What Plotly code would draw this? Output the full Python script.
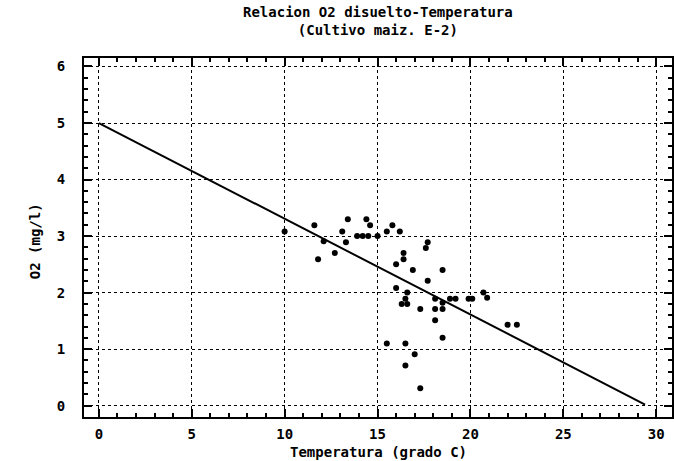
import plotly.graph_objects as go

# Scatter data: Temperatura (grado C) vs O2 disuelto (mg/l)
temp = [10.0, 11.6, 11.8, 12.1, 12.7, 13.1, 13.3, 13.4, 13.9, 14.2,
        14.4, 14.5, 14.6, 15.0, 15.5, 15.8, 16.2, 17.6, 17.7, 16.4,
        16.4, 16.0, 16.9, 18.5, 17.7, 16.0, 16.6, 16.5, 16.3, 16.6,
        18.1, 18.5, 18.9, 19.2, 19.9, 20.1, 20.7, 20.9, 17.3, 18.1,
        18.5, 18.1, 18.5, 15.5, 16.5, 17.0, 16.5, 17.3, 22.0, 22.5]
o2 = [3.08, 3.19, 2.59, 2.91, 2.70, 3.08, 2.89, 3.30, 3.00, 3.00,
      3.30, 3.00, 3.19, 3.00, 3.08, 3.19, 3.08, 2.79, 2.89, 2.70,
      2.59, 2.50, 2.40, 2.40, 2.21, 2.08, 2.00, 1.89, 1.80, 1.80,
      1.89, 1.82, 1.89, 1.89, 1.89, 1.89, 2.00, 1.91, 1.71, 1.71,
      1.71, 1.51, 1.20, 1.10, 1.10, 0.91, 0.71, 0.31, 1.43, 1.43]

# Regression line endpoints
line_x = [0.0, 29.4]
line_y = [5.0, 0.02]

title_lines = ["Relacion O2 disuelto-Temperatura", "(Cultivo maiz. E-2)"]
x_title = "Temperatura (grado C)"
y_title = "O2 (mg/l)"
x_ticks = [0, 5, 10, 15, 20, 25, 30]
y_ticks = [0, 1, 2, 3, 4, 5, 6]

FONT = "DejaVu Sans Mono"

fig = go.Figure()
fig.add_trace(go.Scatter(x=line_x, y=line_y, mode="lines",
                         line=dict(color="black", width=2), showlegend=False))
fig.add_trace(go.Scatter(x=temp, y=o2, mode="markers",
                         marker=dict(color="black", size=6), showlegend=False))

axis_common = dict(
    showline=True, linecolor="black", linewidth=2, mirror="ticks",
    ticks="inside", ticklen=8, tickcolor="black", tickwidth=1.5,
    showgrid=True, gridcolor="black", gridwidth=1, griddash="dot",
    zeroline=False,
    tickfont=dict(family=FONT, size=14, color="black", weight="bold"),
)

fig.update_xaxes(range=[-0.8, 30.85], tickvals=x_ticks, ticktext=[str(v) for v in x_ticks],
                 minor=dict(ticks="inside", dtick=1, ticklen=4, tickcolor="black", tickwidth=1.5, showgrid=False),
                 ticklabelstandoff=3, **axis_common)
fig.update_yaxes(range=[-0.2, 6.15], tickvals=y_ticks, ticktext=[str(v) for v in y_ticks],
                 minor=dict(ticks="inside", dtick=0.2, ticklen=4, tickcolor="black", tickwidth=1.5, showgrid=False),
                 ticklabelstandoff=14, **axis_common)

annots = [
    dict(text="<br>".join(title_lines), x=0.5, y=1 + 37 / 359, yanchor="middle"),
    dict(text=x_title, x=0.5, y=-35 / 359, yanchor="middle"),
    dict(text=y_title, x=-49 / 590, y=0.49, yanchor="middle", textangle=-90),
]
for a in annots:
    fig.add_annotation(xref="paper", yref="paper", showarrow=False, xanchor="center",
                       font=dict(family=FONT, size=14, color="black", weight="bold"), **a)

fig.update_layout(
    width=674, height=461,
    margin=dict(l=84, r=0, t=58, b=44),
    paper_bgcolor="white", plot_bgcolor="white",
)

fig.write_html("out.html")
